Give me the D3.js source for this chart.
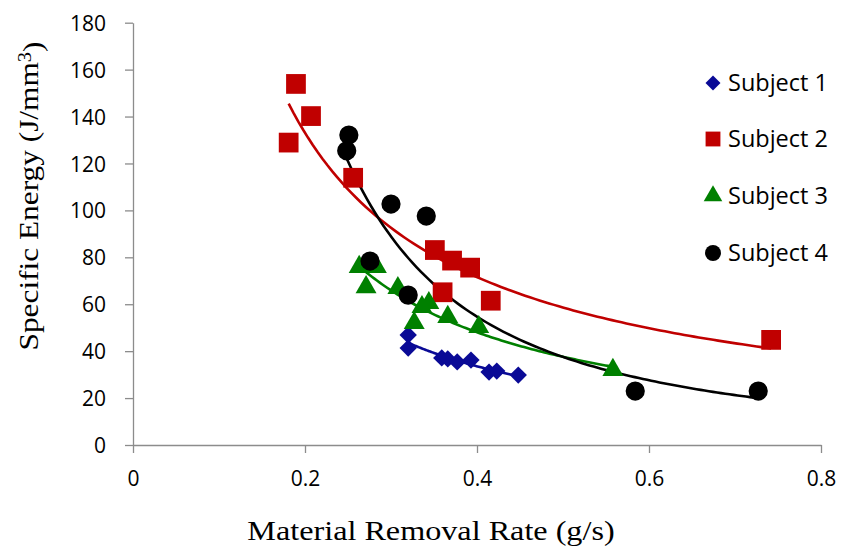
<!DOCTYPE html>
<html>
<head>
<meta charset="utf-8">
<script src="https://cdn.jsdelivr.net/npm/d3@7"></script>
<style>
  html, body { margin: 0; padding: 0; background: #fff; }
  svg { display: block; }
</style>
</head>
<body>
<svg id="chart" width="843" height="552"></svg>
<script>
// ---- data ----
const seriesNames = ["Subject 1", "Subject 2", "Subject 3", "Subject 4"];
const xTicks = [0, 0.2, 0.4, 0.6, 0.8];
const yTicks = [0, 20, 40, 60, 80, 100, 120, 140, 160, 180];

const s1x = [0.320, 0.320, 0.359, 0.366, 0.377, 0.393, 0.414, 0.423, 0.448];
const s1y = [46.9, 41.3, 37.1, 36.7, 35.4, 36.2, 31.1, 31.5, 29.8];

const s2x = [0.1895, 0.207, 0.181, 0.256, 0.351, 0.371, 0.392, 0.360, 0.416, 0.742];
const s2y = [153.9, 140.2, 128.9, 113.9, 83.1, 78.6, 75.6, 65.1, 61.5, 44.8];

const s3x = [0.263, 0.283, 0.271, 0.308, 0.336, 0.344, 0.327, 0.366, 0.402, 0.558];
const s3y = [75.9, 75.9, 67.3, 66.9, 58.8, 60.5, 52.0, 54.6, 50.3, 32.0];

const s4x = [0.251, 0.2485, 0.300, 0.341, 0.2756, 0.320, 0.584, 0.727];
const s4y = [132.1, 125.4, 102.7, 97.6, 78.4, 63.9, 23.0, 23.0];

const colors = ["#0a0a96", "#c00000", "#008000", "#000000"];
const shapes = [d3.symbolSquare, d3.symbolSquare, d3.symbolTriangle, d3.symbolCircle];
const rotations = [45, 0, 0, 0];
const sizes = [150, 390, 190, 290];

const series = [
  { x: s1x, y: s1y }, { x: s2x, y: s2y }, { x: s3x, y: s3y }, { x: s4x, y: s4y }
];

// ---- layout ----
const svg = d3.select("#chart");
const x = d3.scaleLinear().domain([0, 0.8]).range([133, 821]);
const y = d3.scaleLinear().domain([0, 180]).range([445, 22.7]);
const axisColor = "#8c8c8c";
const tickFont = "'Open Sans', sans-serif";
const serif = "'Liberation Serif', 'Times New Roman', serif";

// axes
const gx = svg.append("g").attr("transform", "translate(0,445)")
  .call(d3.axisBottom(x).tickValues(xTicks).tickSize(8).tickSizeOuter(0)
    .tickFormat(d => d === 0 ? "0" : d3.format(".1f")(d)));
const gy = svg.append("g").attr("transform", "translate(133,0)")
  .call(d3.axisLeft(y).tickValues(yTicks).tickSize(8).tickSizeOuter(0));
[gx, gy].forEach(g => {
  g.select(".domain").attr("stroke", axisColor).attr("stroke-width", 1.3);
  g.selectAll(".tick line").attr("stroke", axisColor).attr("stroke-width", 1.3);
  g.selectAll(".tick text").attr("fill", "#000").style("font-family", tickFont).style("font-size", "21px");
});
gx.selectAll(".tick text").attr("dy", null).attr("y", 41);
gy.selectAll(".tick text").attr("x", -27).attr("dy", "0.36em");

// trend lines (power fit in log-log space)
function powerFit(xs, ys) {
  const lx = xs.map(Math.log), ly = ys.map(Math.log);
  const n = xs.length;
  const mx = d3.mean(lx), my = d3.mean(ly);
  let num = 0, den = 0;
  for (let i = 0; i < n; i++) { num += (lx[i] - mx) * (ly[i] - my); den += (lx[i] - mx) ** 2; }
  const b = num / den, a = Math.exp(my - b * mx);
  return v => a * Math.pow(v, b);
}
const line = d3.line().x(d => x(d[0])).y(d => y(d[1]));
series.forEach((s, i) => {
  const f = powerFit(s.x, s.y);
  const [lo, hi] = d3.extent(s.x);
  const pts = d3.range(0, 101).map(k => { const v = lo + (hi - lo) * k / 100; return [v, f(v)]; });
  svg.append("path").datum(pts).attr("d", line)
    .attr("fill", "none").attr("stroke", colors[i]).attr("stroke-width", 2.6);
});

// markers
series.forEach((s, i) => {
  const sym = d3.symbol().type(shapes[i]).size(sizes[i]);
  svg.append("g").selectAll("path").data(s.x.map((v, k) => [v, s.y[k]])).join("path")
    .attr("d", sym)
    .attr("transform", d => `translate(${x(d[0])},${y(d[1])}) rotate(${rotations[i]})`)
    .attr("fill", colors[i]);
});

// legend
const legY = [83, 139, 196, 253];
const legSizes = [112, 220, 150, 200];
seriesNames.forEach((name, i) => {
  const g = svg.append("g").attr("transform", `translate(713,${legY[i]})`);
  g.append("path").attr("d", d3.symbol().type(shapes[i]).size(legSizes[i])())
    .attr("transform", `rotate(${rotations[i]})`).attr("fill", colors[i]);
  g.append("text").attr("x", 15).attr("dy", "0.36em").text(name)
    .style("font-family", tickFont).style("font-size", "23.5px");
});

// axis titles
svg.append("text").attr("transform", "translate(431,540) scale(1.15,1)").attr("text-anchor", "middle")
  .style("font-family", serif).style("font-size", "28px")
  .text("Material Removal Rate (g/s)");
const yt = svg.append("text").attr("transform", "translate(38,196) rotate(-90) scale(1.14,1)").attr("text-anchor", "middle")
  .style("font-family", serif).style("font-size", "27.5px");
yt.append("tspan").text("Specific Energy (J/mm");
yt.append("tspan").attr("dy", "-0.4em").style("font-size", "18px").text("3");
yt.append("tspan").attr("dy", "0.4em").text(")");
</script>
</body>
</html>
